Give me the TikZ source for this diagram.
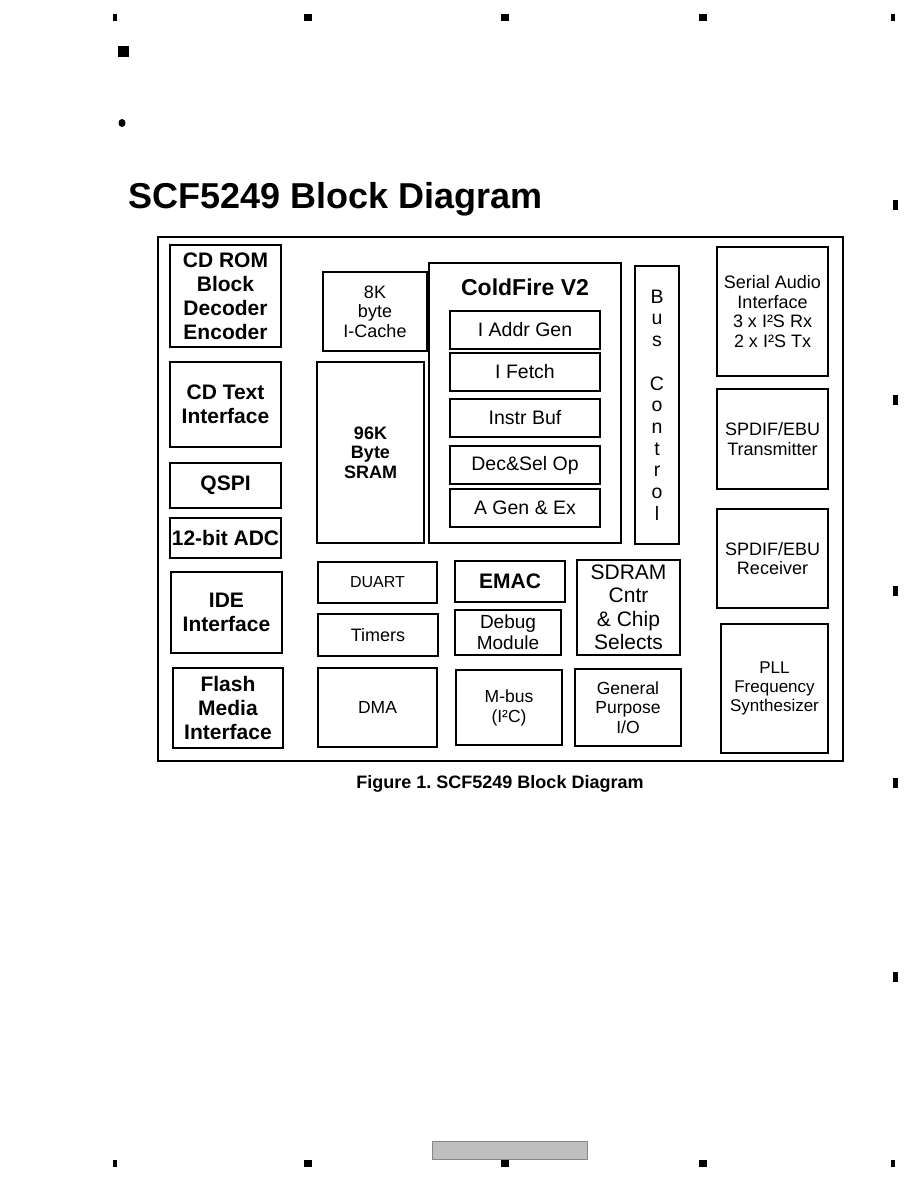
\documentclass[tikz,border=0pt]{standalone}
\usepackage{fontspec}
\setmainfont{Liberation Sans}
\usepackage{xcolor}
\definecolor{pgbar}{HTML}{BDBFC1}
\definecolor{pgedge}{HTML}{85878A}
\usetikzlibrary{positioning}
\newcommand{\fsz}[2]{\fontsize{#1}{#2}\selectfont}

\begin{document}
\begin{tikzpicture}[x=1pt,y=-1pt,
  blk/.style={draw,line width=1.3pt,inner sep=0pt,align=center},
  bblk/.style={blk,font=\bfseries\fsz{21}{24}},
  rblk/.style={blk,font=\fsz{18}{19.5}},
  unit/.style={rblk,font=\fsz{19.5}{21},minimum width=150,minimum height=38},
  pagemark/.style={fill=black}]
\useasboundingbox (0,0) rectangle (918,1188);
% page marks
\foreach \x/\w in {115/4,308/8,505/8,703/8,893/4} {
  \fill[pagemark] (\x-\w/2,14) rectangle ++(\w,7);
  \fill[pagemark] (\x-\w/2,1160) rectangle ++(\w,7);
}
\foreach \y in {205,400,591,783,977}
  \fill[pagemark] (893,\y-5) rectangle ++(5,10);
\fill[pagemark] (118,46) rectangle (129,57);
\fill[pagemark] (122,123) ellipse (3.5 and 4);
\node[draw=pgedge,fill=pgbar,line width=0.8pt,minimum width=155,minimum height=18,
  inner sep=0pt] (pgno) at (509.5,1150) {};
% title and frame
\node[font=\bfseries\fsz{36}{40},anchor=base west,inner sep=0pt] (title)
  at (128,208) {SCF5249 Block Diagram};
\node[draw,line width=1.6pt,minimum width=685,minimum height=524,inner sep=0pt]
  (frame) at (500.5,499) {};
% left column
\node[bblk,minimum width=111,minimum height=102] (cdrom) at (225.5,296)
  {CD ROM\\Block\\Decoder\\Encoder};
\node[bblk,minimum width=111,minimum height=85] (cdtext) at (225.5,404.5)
  {CD Text\\Interface};
\node[bblk,minimum width=111,minimum height=45] (qspi) at (225.5,485.5) {QSPI};
\node[bblk,minimum width=111,minimum height=40] (adc) at (225.5,538) {12-bit ADC};
\node[bblk,minimum width=111,minimum height=81] (ide) at (226.5,612.5)
  {IDE\\Interface};
\node[bblk,minimum width=110,minimum height=80] (flash) at (228,708)
  {Flash\\Media\\Interface};
% memories
\node[rblk,minimum width=104,minimum height=79] (icache) at (375,311.5)
  {8K\\byte\\I-Cache};
\node[blk,font=\bfseries\fsz{18}{19.5},minimum width=107,minimum height=181]
  (sram) at (370.5,452.5) {96K\\Byte\\SRAM};
% core
\node[blk,minimum width=192,minimum height=280] (core) at (525,403) {};
\node[font=\bfseries\fsz{23}{25}] (corename) at (525,287) {ColdFire V2};
\node[unit] (iaddr) at (525,330) {I Addr Gen};
\node[unit] (ifetch) at (525,372) {I Fetch};
\node[unit] (ibuf) at (525,418) {Instr Buf};
\node[unit] (decsel) at (525,465) {Dec\&Sel Op};
\node[unit] (agen) at (525,508) {A Gen \& Ex};
\node[blk,font=\fsz{19.5}{21.7},minimum width=44,minimum height=278] (busctl)
  at (657,405) {B\\u\\s\\[21.7pt]C\\o\\n\\t\\r\\o\\l};
% peripherals
\node[rblk,minimum width=119,minimum height=41,font=\fsz{16}{18}] (duart)
  at (377.5,582.5) {DUART};
\node[rblk,minimum width=120,minimum height=42] (timers) at (378,635) {Timers};
\node[rblk,minimum width=119,minimum height=79,font=\fsz{17.5}{19}] (dma)
  at (377.5,707.5) {DMA};
\node[bblk,minimum width=110,minimum height=41] (emac) at (510,581.5) {EMAC};
\node[rblk,minimum width=106,minimum height=45,font=\fsz{19}{21}] (debug)
  at (508,632.5) {Debug\\Module};
\node[rblk,minimum width=103,minimum height=95,font=\fsz{21}{23.5}] (sdram)
  at (628.5,607.5) {SDRAM\\Cntr\\\& Chip\\Selects};
\node[rblk,minimum width=106,minimum height=75,font=\fsz{17.5}{20}] (mbus)
  at (509,707.5) {M-bus\\(I²C)};
\node[rblk,minimum width=106,minimum height=77,font=\fsz{17.5}{19.5}] (gpio)
  at (628,707.5) {General\\Purpose\\I/O};
% right column
\node[rblk,minimum width=111,minimum height=129] (sai) at (772.5,311.5)
  {Serial Audio\\Interface\\3 x I²S Rx\\2 x I²S Tx};
\node[rblk,minimum width=111,minimum height=100] (spdtx) at (772.5,439)
  {SPDIF/EBU\\Transmitter};
\node[rblk,minimum width=111,minimum height=99] (spdrx) at (772.5,558.5)
  {SPDIF/EBU\\Receiver};
\node[rblk,minimum width=107,minimum height=129,font=\fsz{17}{19}] (pll)
  at (774.5,688.5) {PLL\\Frequency\\Synthesizer};
% caption
\node[font=\bfseries\fsz{18}{20},anchor=base] (caption) at (500,788)
  {Figure 1.\ SCF5249 Block Diagram};
\end{tikzpicture}
\end{document}
